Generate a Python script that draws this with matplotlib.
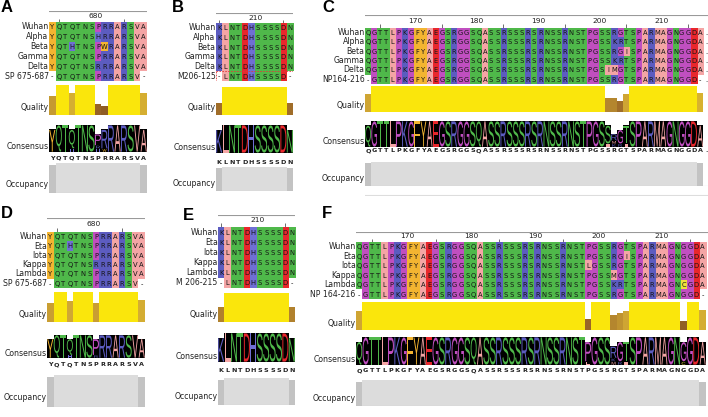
"""
Multiple sequence alignment panels (Jalview style) for spike / M / N peptides.
Saves out.png (708 x 417 px).
"""

from collections import Counter

import matplotlib
matplotlib.use("Agg")
import matplotlib.pyplot as plt
from matplotlib.colors import LinearSegmentedColormap, to_rgb
from matplotlib.font_manager import FontProperties
from matplotlib.patches import PathPatch, Rectangle
from matplotlib.textpath import TextPath
from matplotlib.transforms import Affine2D
import numpy as np

W, H = 708, 417

# ---- data -----------------------------------------------------------------
A_NAMES = ["Wuhan", "Alpha", "Beta", "Gamma", "Delta", "SP 675-687"]
A_SEQS = ["YQTQTNSPRRARSVA", "YQTQTNSHRRARSVA", "YQTHTNSPWRARSVA",
          "YQTQTNSPRRARSVA", "YQTQTNSRRRARSVA", "-QTQTNSPRRARSV-"]
A_START = 674
A_QUALITY = [0.63, 1, 1, 0.73, 1, 1, 1, 0.37, 0.3, 1, 1, 1, 1, 1, 0.73]

B_NAMES = ["Wuhan", "Alpha", "Beta", "Gamma", "Delta", "M206-125"]
B_SEQS = ["KLNTDHSSSSDN"] * 5 + ["-LNTDHSSSSD-"]
B_START = 205
B_QUALITY = [0.43] + [1] * 10 + [0.43]

N_WUHAN = "QGTTLPKGFYAEGSRGGSQASSRSSSRSRNSSRNSTPGSSRGTSPARMAGNGGDA."
N_PEPTIDE = "-GTTLPKGFYAEGSRGGSQASSRSSSRSRNSSRNSTPGSSRGTSPARMAGNGGD-."

C_NAMES = ["Wuhan", "Alpha", "Beta", "Gamma", "Delta", "NP164-216"]
C_SEQS = [N_WUHAN,
          N_WUHAN.replace("PGSSRGTSP", "PGSSKRTSP"),
          N_WUHAN.replace("PGSSRGTSP", "PGSSRGISP"),
          N_WUHAN.replace("PGSSRGTSP", "PGSSKRTSP"),
          N_WUHAN.replace("PGSSRGTSP", "PGSIMGTSP"),
          N_PEPTIDE]
C_START = 163
C_QUALITY = [0.68] + [1] * 38 + [0.54, 0.54, 0.43, 0.68] + [1] * 11 + [0.75]

D_NAMES = ["Wuhan", "Eta", "Iota", "Kappa", "Lambda", "SP 675-687"]
D_SEQS = ["YQTQTNSPRRARSVA", "YQTHTNSPRRARSVA", "YQTQTNSPRRARSVA",
          "YQTQTNSRRRARSVA", "YQTQTNSPRRARSVA", "-QTQTNSPRRARSV-"]
D_START = 674
D_QUALITY = [0.65, 1, 1, 0.69, 1, 1, 1, 0.65, 1, 1, 1, 1, 1, 1, 0.72]

E_NAMES = ["Wuhan", "Eta", "Iota", "Kappa", "Lambda", "M 206-215"]
E_SEQS = ["KLNTDHSSSSDN"] * 5 + ["-LNTDHSSSSD-"]
E_START = 205
E_QUALITY = [0.52] + [1] * 10 + [0.52]

F_NAMES = ["Wuhan", "Eta", "Iota", "Kappa", "Lambda", "NP 164-216"]
F_SEQS = [N_WUHAN,
          N_WUHAN.replace("PGSSRGTSP", "PGSSRGISP"),
          N_WUHAN.replace("PGSSRGTSP", "LGSSRGTSP"),
          N_WUHAN.replace("PGSSRGTSP", "PGSSMGTSP"),
          N_WUHAN.replace("PGSSRGTSP", "PGSSKRTSP").replace("GNGGDA", "GNCGDA"),
          N_PEPTIDE]
F_START = 163
F_QUALITY = ([0.68] + [1] * 35 + [0.39] + [1] * 3 + [0.54, 0.6, 0.68]
             + [1] * 8 + [0.32, 1, 1, 0.72])

# ---- style ----------------------------------------------------------------
RES_COLORS = {}
for aa in "AILMV":
    RES_COLORS[aa] = "#f4a5a5"
for aa in "FWY":
    RES_COLORS[aa] = "#f3b531"
for aa in "NQST":
    RES_COLORS[aa] = "#4fb84a"
for aa in "KR":
    RES_COLORS[aa] = "#5c5cc0"
for aa in "DE":
    RES_COLORS[aa] = "#e8272c"
for aa in "GP":
    RES_COLORS[aa] = "#c04fc0"
RES_COLORS["H"] = "#6f6fd4"
RES_COLORS["C"] = "#eee23a"

QUAL_CMAP = LinearSegmentedColormap.from_list(
    "quality", [(0.0, "#6e4218"), (0.4, "#9a6628"), (0.7, "#d2a934"),
                (0.96, "#efd41c"), (1.0, "#fae60c")])

LOGO_FONT = FontProperties(family="Liberation Sans")
TXT = "#222222"
LABEL_FS = 5.6
OCC_BASE = -12  # occupancy bars rise from this count level

# pixel layout of each panel (y measured from the top)
LAYOUT = {
    "A": dict(x0=49, colw=6.53, ruler=(11, 22), rows=(22, 81), qual=(85, 115),
              cons=(125, 152), letters=158, occ=(163, 193), tag=(1, 7)),
    "B": dict(x0=216, colw=6.42, ruler=(13, 23), rows=(23, 81), qual=(87, 115),
              cons=(125, 153), letters=162, occ=(167, 191), tag=(172, 8)),
    "C": dict(x0=365, colw=6.15, ruler=(15, 28), rows=(28, 84), qual=(86, 112),
              cons=(121, 147), letters=151, occ=(162, 186), tag=(322, 8), rule=195),
    "D": dict(x0=47, colw=6.53, ruler=(218, 232), rows=(232, 288), qual=(292, 322),
              cons=(335, 358), letters=365, occ=(375, 407), tag=(1, 213)),
    "E": dict(x0=218, colw=6.42, ruler=(215, 227), rows=(227, 288), qual=(293, 322),
              cons=(333, 362), letters=370, occ=(378, 405), tag=(183, 215)),
    "F": dict(x0=356, colw=6.36, ruler=(232, 242), rows=(242, 299), qual=(302, 330),
              cons=(337, 365), letters=371, occ=(380, 406), tag=(322, 213)),
}


def px_axes(fig, x0, x1, top, bottom):
    ax = fig.add_axes([x0 / W, 1 - bottom / H, (x1 - x0) / W, (bottom - top) / H])
    ax.set_axis_off()
    return ax


def glyph(ax, ch, x, y, w, h, color):
    tp = TextPath((0, 0), ch, size=1, prop=LOGO_FONT)
    bb = tp.get_extents()
    tr = Affine2D().translate(-bb.x0, -bb.y0).scale(w / bb.width, h / bb.height).translate(x, y)
    ax.add_patch(PathPatch(tr.transform_path(tp), fc=color, ec="none", lw=0))


def draw_panel(fig, tag, names, seqs, start, quality, highlight_last=False):
    lay = LAYOUT[tag]
    ncol = len(seqs[0])
    nrow = len(seqs)
    x0 = lay["x0"]
    x1 = x0 + lay["colw"] * ncol
    cols = np.arange(ncol)
    xlim = (-0.5, ncol - 0.5)
    lab_x = -0.55

    fig.text(lay["tag"][0] / W, 1 - lay["tag"][1] / H, tag, fontsize=12,
             fontweight="bold", family="Liberation Sans", va="center", ha="left")

    # ruler
    ax = px_axes(fig, x0, x1, *lay["ruler"])
    ax.set_xlim(*xlim)
    ax.set_ylim(0, 1)
    ax.axhline(1, color="#9a9a9a", lw=0.8)
    for i in cols:
        pos = start + i
        if pos % 10 == 0:
            ax.text(i - 0.5, 0.55, str(pos), fontsize=5.4, color=TXT,
                    ha="left", va="center")
        elif pos % 5 == 0:
            ax.vlines(i, 0, 0.3, color="#555555", lw=0.6)

    # alignment
    ax = px_axes(fig, x0, x1, *lay["rows"])
    rgb = np.ones((nrow, ncol, 3))
    for r, s in enumerate(seqs):
        for c, ch in enumerate(s):
            if ch in RES_COLORS:
                rgb[r, c] = to_rgb(RES_COLORS[ch])
    ax.imshow(rgb, aspect="auto", interpolation="nearest")
    ax.set_xlim(*xlim)
    ax.set_ylim(nrow - 0.5, -0.5)
    for r, s in enumerate(seqs):
        ax.text(lab_x, r, names[r], ha="right", va="center", fontsize=LABEL_FS,
                color=TXT)
        for c, ch in enumerate(s):
            ax.text(c, r + 0.05, ch, ha="center", va="center", fontsize=4.9,
                    color="#141414")
    if highlight_last:
        ax.add_patch(Rectangle((-0.5, nrow - 1.5), ncol, 1, fill=False,
                               ec="#e03a3a", lw=0.6, ls=(0, (2, 1.5))))

    # quality
    ax = px_axes(fig, x0, x1, *lay["qual"])
    q = np.array(quality, dtype=float)
    ax.bar(np.arange(len(q)), q, width=1.0, color=QUAL_CMAP(q), lw=0)
    ax.set_xlim(*xlim)
    ax.set_ylim(0, 1)
    ax.text(lab_x, 0.25, "Quality", ha="right", va="center", fontsize=LABEL_FS,
            color=TXT)

    # consensus logo
    top, bot = lay["cons"]
    ax = px_axes(fig, x0, x1, top, bot)
    ax.set_xlim(*xlim)
    ax.set_ylim(0, 1)
    letter_y = -(lay["letters"] - bot) / (bot - top)
    for c in cols:
        column = [s[c] for s in seqs if s[c].isalpha()]
        if not column:
            ax.text(c, letter_y, seqs[0][c], ha="center", va="center",
                    fontsize=4.6, fontweight="bold", color=TXT, clip_on=False)
            continue
        ranked = Counter(column).most_common()
        modal, mcount = ranked[0]
        frac = mcount / nrow
        ax.bar(c, frac, width=1.0, color="black", lw=0)
        minor_h = 0.12
        y = 0.0
        for aa, _ in ranked[1:]:
            glyph(ax, aa, c - 0.3, y + 0.01, 0.6, minor_h - 0.02,
                  RES_COLORS.get(aa, "#888888"))
            y += minor_h
        glyph(ax, modal, c - 0.47, y + 0.015, 0.94, frac - y - 0.03,
              RES_COLORS.get(modal, "#888888"))
        ax.text(c, letter_y, modal, ha="center", va="center", fontsize=4.6,
                fontweight="bold", color=TXT, clip_on=False)
    ax.text(lab_x, 0.2, "Consensus", ha="right", va="center", fontsize=LABEL_FS,
            color=TXT)

    # occupancy
    ax = px_axes(fig, x0, x1, *lay["occ"])
    occ = np.array([sum(s[c].isalpha() for s in seqs) for c in cols
                    if any(s[c].isalpha() for s in seqs)], dtype=float)
    shade = np.where(occ >= nrow, "#dcdcdc", "#c3c3c3")
    ax.bar(np.arange(len(occ)), occ - OCC_BASE, bottom=OCC_BASE, width=1.0,
           color=shade, lw=0)
    ax.set_xlim(*xlim)
    ax.set_ylim(OCC_BASE, nrow + 0.05)
    ax.axhline(OCC_BASE, color="#b8b8b8", lw=0.8)
    ax.text(lab_x, OCC_BASE + 0.3 * (nrow - OCC_BASE), "Occupancy", ha="right",
            va="center", fontsize=LABEL_FS, color=TXT)

    if "rule" in lay:
        ax = px_axes(fig, x0, x1, lay["rule"] - 1, lay["rule"] + 1)
        ax.axhline(0.5, color="#dddddd", lw=0.8)


def main():
    fig = plt.figure(figsize=(W / 100, H / 100), dpi=100)
    draw_panel(fig, "A", A_NAMES, A_SEQS, A_START, A_QUALITY)
    draw_panel(fig, "B", B_NAMES, B_SEQS, B_START, B_QUALITY, highlight_last=True)
    draw_panel(fig, "C", C_NAMES, C_SEQS, C_START, C_QUALITY)
    draw_panel(fig, "D", D_NAMES, D_SEQS, D_START, D_QUALITY)
    draw_panel(fig, "E", E_NAMES, E_SEQS, E_START, E_QUALITY)
    draw_panel(fig, "F", F_NAMES, F_SEQS, F_START, F_QUALITY)
    fig.savefig("out.png", dpi=100)


if __name__ == "__main__":
    main()
